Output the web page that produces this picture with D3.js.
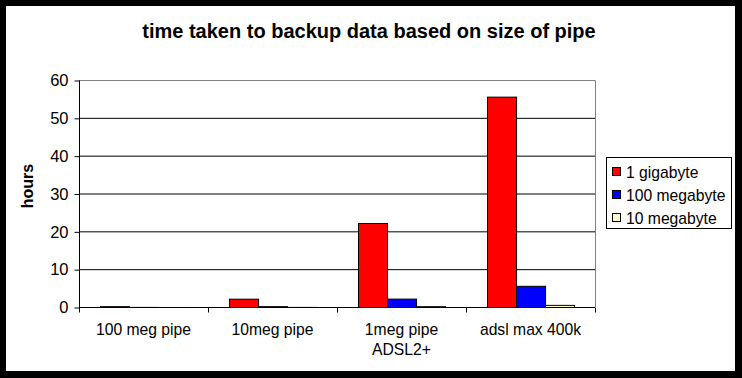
<!DOCTYPE html>
<html lang="en">
<head>
<meta charset="utf-8">
<title>Backup time</title>
<script src="https://d3js.org/d3.v7.min.js"></script>
<style>
  body { margin: 0; background: #000; }
  text { font-family: Arial, "Liberation Sans", sans-serif; }
</style>
</head>
<body>
<script>
// pipe sizes (x categories), second line of label if any
var categories = ["100 meg pipe", "10meg pipe", "1meg pipe", "adsl max 400k"];
var categoryLines = [["100 meg pipe"], ["10meg pipe"], ["1meg pipe", "ADSL2+"], ["adsl max 400k"]];
var seriesNames = ["1 gigabyte", "100 megabyte", "10 megabyte"];
var seriesColors = ["#ff0000", "#0000ff", "#ffffcc"];
// hours per series, one value per category
var gigabyte = [0.22, 2.2, 22.2, 55.6];
var hundredMeg = [0.022, 0.22, 2.22, 5.6];
var tenMeg = [0.0022, 0.022, 0.222, 0.56];
var yTicks = [0, 10, 20, 30, 40, 50, 60];

var W = 742, H = 378;
var plot = {left: 79, right: 595, top: 80, bottom: 307};

var svg = d3.select("body").append("svg")
    .attr("width", W).attr("height", H);

svg.append("rect").attr("width", W).attr("height", H).attr("fill", "#000");
svg.append("rect").attr("x", 6).attr("y", 6).attr("width", 729).attr("height", 365).attr("fill", "#fff");

var x0 = d3.scaleBand().domain(categories).range([plot.left, plot.right]).padding(0);
var x1 = d3.scaleBand().domain(seriesNames).range([0, x0.bandwidth()])
    .paddingInner(0).paddingOuter(0.72);
var y = d3.scaleLinear().domain([0, 60]).range([plot.bottom, plot.top]);

// gridlines
svg.append("g").selectAll("line").data(yTicks.slice(1, -1)).join("line")
    .attr("x1", plot.left).attr("x2", plot.right)
    .attr("y1", d => y(d) + 0.5).attr("y2", d => y(d) + 0.5)
    .attr("stroke", "#000");

// plot border top / right (grey)
svg.append("path")
    .attr("d", "M" + plot.left + "," + (plot.top + 0.5) + "H" + (plot.right + 0.5) + "V" + plot.bottom)
    .attr("fill", "none").attr("stroke", "#808080");

// bars
var table = categories.map(function (c, i) {
    return {cat: c, vals: [gigabyte[i], hundredMeg[i], tenMeg[i]]};
});
var groups = svg.append("g").selectAll("g").data(table).join("g")
    .attr("transform", d => "translate(" + x0(d.cat) + ",0)");
groups.selectAll("rect").data(d => d.vals.map((v, j) => ({name: seriesNames[j], v: v, c: seriesColors[j]})))
    .join("rect")
    .attr("x", d => Math.round(x1(d.name)) + 0.5)
    .attr("y", d => y(d.v) + 0.5)
    .attr("width", x1.bandwidth())
    .attr("height", d => Math.max(0, y(0) - y(d.v)))
    .attr("fill", d => d.c)
    .attr("stroke", "#000").attr("stroke-width", 1);

// y axis
var yAxis = d3.axisLeft(y).tickValues(yTicks).tickSize(5).tickPadding(6);
var gy = svg.append("g").attr("transform", "translate(" + (plot.left + 0.5) + ",0.5)").call(yAxis);
gy.select(".domain").attr("d", "M0," + plot.top + "V" + (plot.bottom + 5));
gy.selectAll("text").attr("font-size", 16.5).attr("font-family", "Arial, 'Liberation Sans', sans-serif").attr("fill", "#000");

// x axis
var xAxis = d3.axisBottom(x0).tickValues([]).tickSizeOuter(0);
var gx = svg.append("g").attr("transform", "translate(0," + (plot.bottom + 0.5) + ")").call(xAxis);
gx.select(".domain").attr("d", "M" + plot.left + ",0H" + plot.right);
gx.selectAll(".sep").data(categories.slice(1)).join("line")
    .attr("x1", d => Math.round(x0(d)) + 0.5).attr("x2", d => Math.round(x0(d)) + 0.5)
    .attr("y1", 0).attr("y2", 5).attr("stroke", "#000");
gx.append("line").attr("x1", plot.right + 0.5).attr("x2", plot.right + 0.5)
    .attr("y1", 0).attr("y2", 5).attr("stroke", "#000");

categories.forEach(function (c, i) {
    var t = svg.append("text")
        .attr("x", x0(c) + x0.bandwidth() / 2)
        .attr("y", 335)
        .attr("text-anchor", "middle")
        .attr("font-size", 15.7);
    categoryLines[i].forEach(function (line, k) {
        t.append("tspan").attr("x", x0(c) + x0.bandwidth() / 2).attr("dy", k === 0 ? 0 : 20).text(line);
    });
});

// title
svg.append("text").attr("x", 369).attr("y", 38).attr("text-anchor", "middle")
    .attr("font-size", 20).attr("font-weight", "bold")
    .text("time taken to backup data based on size of pipe");

// y title
svg.append("text").attr("transform", "translate(33,186) rotate(-90)")
    .attr("text-anchor", "middle").attr("font-size", 16).attr("font-weight", "bold")
    .text("hours");

// legend
var leg = svg.append("g");
leg.append("rect").attr("x", 606.5).attr("y", 157.5).attr("width", 125).attr("height", 71)
    .attr("fill", "#fff").attr("stroke", "#000");
var items = leg.selectAll("g").data(seriesNames).join("g")
    .attr("transform", (d, i) => "translate(0," + (172 + i * 23) + ")");
items.append("rect").attr("x", 612.5).attr("y", -4.5).attr("width", 8).attr("height", 8)
    .attr("fill", (d, i) => seriesColors[i]).attr("stroke", "#000");
items.append("text").attr("x", 626).attr("y", 6).attr("font-size", 15.7).text(d => d);
</script>
</body>
</html>
